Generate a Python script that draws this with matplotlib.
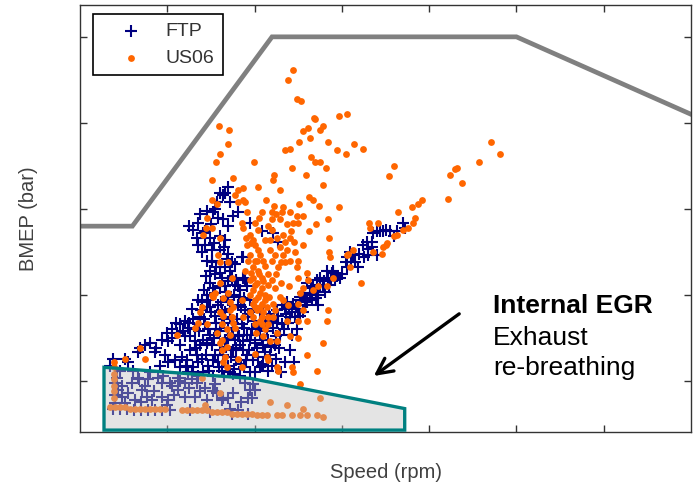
"""BMEP vs speed operating points for FTP and US06 with the internal EGR region."""

import matplotlib.pyplot as plt
import numpy as np
from matplotlib.patches import Polygon

plt.rcParams["font.family"] = ["Liberation Sans", "DejaVu Sans"]

# full-load curve (rpm, bar)
wot_rpm = [0, 600, 2200, 5000, 7000]
wot_bmep = [9.0, 9.0, 20.0, 20.0, 15.5]

# internal EGR (exhaust re-breathing) region outline
egr_rpm = [275, 1960, 3720, 3720, 275]
egr_bmep = [0.8, 0.15, -1.6, -2.85, -2.85]

# FTP operating points (rpm, bar), grouped by area of the map
ftp_tail = [
    (344, 0.9), (378, 1.3), (458, 0.6), (550, 1.1), (607, 0.6), (664, 1.7),
    (744, 2.1), (802, 2.2), (870, 1.9), (939, 2.4), (1008, 2.3), (1053, 2.5),
    (1111, 2.8), (1145, 2.1), (1202, 2.6), (1237, 3.1), (1168, 1.4), (1088, 1.2),
    (1008, 1.1), (916, 0.9), (802, 0.5), (1260, 1.8), (1317, 2.3), (515, 1.3),
    (687, 1.9), (859, 1.7), (973, 1.5), (1145, 0.8), (1100, 3.4), (1050, 3.0),
    (1000, 2.8), (1150, 3.3), (1180, 2.9), (1200, 3.5),
]
ftp_core = [
    (1317, 3.0), (1374, 3.7), (1431, 3.3), (1489, 2.7), (1511, 2.1), (1546, 1.5),
    (1580, 1.1), (1626, 0.6), (1660, 2.4), (1695, 3.1), (1718, 3.7), (1752, 1.8),
    (1786, 1.2), (1809, 2.7), (1832, 2.1), (1855, 3.3), (1889, 4.1), (1912, 1.5),
    (1947, 2.4), (1969, 3.0), (2004, 3.5), (2027, 1.9), (2061, 2.7), (2084, 0.9),
    (2118, 3.3), (2153, 2.4), (1660, 4.0), (1580, 4.4), (1466, 4.7), (1351, 1.1),
    (1408, 0.5), (1523, 0.3), (1718, 0.5), (1878, 0.8), (2004, 0.5), (1282, 0.5),
    (1214, 0.9), (1374, 2.1), (1443, 1.5), (1603, 1.8), (1775, 2.4), (1924, 3.7),
    (1809, 4.4), (1695, 4.7), (1947, 4.7), (1832, 5.3), (1889, 5.9), (1775, 5.6),
    (1672, 5.2), (2176, 1.5), (2233, 2.1), (2198, 0.9), (2290, 2.7), (2347, 1.1),
    (2405, 1.8), (2313, 3.3), (2382, 3.4), (2462, 3.7), (2519, 3.8), (2427, 2.7),
    (2485, 3.0), (1408, 2.4), (1557, 3.0), (1626, 3.4), (1740, 2.7), (1866, 1.8),
    (1981, 1.2), (2038, 3.1), (2095, 2.1), (2176, 3.7), (2256, 4.1), (2370, 4.6),
    (2061, 0.8), (1947, 0.5), (1832, 0.3), (1466, 0.9), (1340, 1.5), (1546, 3.8),
    (1752, 3.4), (1912, 2.7), (2061, 4.0),
    (1230, 1.2), (1260, 2.6), (1290, 3.6), (1300, 0.8), (1330, 1.9), (1360, 2.9),
    (1390, 4.1), (1400, 1.3), (1420, 3.6), (1450, 2.2), (1470, 3.0), (1480, 0.6),
    (1500, 4.0), (1520, 1.2), (1540, 2.5), (1560, 3.4), (1590, 0.8), (1600, 2.9),
    (1620, 4.6), (1640, 1.5), (1650, 3.6), (1670, 2.0), (1690, 0.9), (1700, 2.5),
    (1720, 4.2), (1730, 1.4), (1750, 3.0), (1770, 0.7), (1790, 1.9), (1800, 3.6),
    (1820, 2.6), (1840, 1.0), (1850, 4.3), (1870, 2.3), (1880, 3.1), (1900, 1.2),
    (1920, 3.9), (1940, 1.8), (1960, 2.7), (1980, 4.2), (2000, 2.2), (2020, 3.0),
    (2040, 1.4), (2060, 3.4), (2080, 2.4), (2100, 4.3), (2120, 1.7), (2140, 2.9),
    (2160, 3.9), (2190, 2.0), (2210, 3.1), (2240, 2.6), (2260, 3.4), (2280, 1.9),
    (2310, 4.4), (2340, 3.0), (2360, 3.9), (2400, 4.3), (2440, 4.5), (1600, 5.5),
    (1700, 5.8), (1760, 5.0), (1550, 6.2), (1880, 4.8), (1420, 5.3), (1350, 4.7),
    (1280, 4.2), (1250, 3.4), (1240, 0.5), (1350, 0.3), (1650, 0.3), (1750, 0.4),
    (2150, 0.6), (2250, 1.3), (2300, 0.5), (2450, 1.1), (2100, 1.0),
]
ftp_up = [
    (1660, 10.9), (1569, 10.4), (1718, 10.4), (1580, 9.5), (1809, 9.8), (1351, 9.2),
    (1431, 8.7), (1340, 8.3), (1489, 8.3), (1660, 8.2), (1431, 7.9), (1511, 7.6),
    (1603, 7.6), (1511, 6.9), (1683, 7.1), (1740, 6.9), (1855, 7.2), (1489, 6.4),
    (1660, 6.6), (1489, 5.7), (1626, 6.0), (1740, 6.0), (1809, 5.5), (1546, 5.1),
    (1695, 4.9), (1397, 4.6), (1489, 4.3), (1626, 4.1), (1637, 10.8), (1523, 9.8),
    (1637, 9.4), (1947, 9.2), (2084, 8.7), (2210, 8.6), (2267, 8.1), (1408, 8.6),
    (1603, 8.4), (1866, 7.2), (1511, 7.0), (1718, 6.4), (1866, 6.0), (1912, 5.5),
    (1454, 4.3), (1832, 4.9),
    (1380, 9.7), (1450, 9.9), (1550, 10.0), (1600, 10.9), (1700, 11.3), (1750, 9.6),
    (1400, 7.5), (1350, 7.9), (1460, 7.0), (1540, 8.0), (1650, 7.8), (1700, 7.4),
    (1560, 6.6), (1600, 6.3), (1440, 6.1), (1520, 5.4), (1660, 5.5), (1780, 6.8),
    (1790, 5.9), (1450, 5.0), (1500, 9.1), (1700, 9.0), (1250, 9.0), (1300, 8.8),
]
ftp_diag = [
    (3698, 9.2), (3721, 8.9), (3630, 8.7), (3550, 8.7), (3435, 8.7), (3355, 8.6),
    (3286, 8.1), (3240, 7.9), (3343, 7.8), (3401, 7.3), (3298, 7.3), (3126, 7.3),
    (3149, 6.9), (3092, 7.5), (3057, 7.2), (3183, 6.6), (3000, 6.2), (2897, 6.3),
    (2840, 6.0), (2920, 5.9), (2748, 6.0), (2714, 5.9), (2782, 5.5), (2668, 5.5),
    (2599, 5.7), (2553, 5.1), (2634, 5.0), (2519, 4.7), (2576, 4.4), (2725, 5.0),
    (2805, 5.2), (2828, 6.4), (2897, 6.4), (2977, 6.0), (2519, 4.9), (2634, 5.1),
    (2885, 6.3), (3057, 6.6), (3469, 8.7), (3401, 8.7), (2176, 3.5), (2267, 3.8),
    (2347, 4.2), (2427, 4.0), (2496, 4.2), (2656, 4.7), (2725, 4.4), (2405, 3.7),
    (2550, 4.0), (2600, 4.6), (2650, 5.4), (2700, 5.2), (2750, 5.6), (2800, 5.8),
    (2850, 5.6), (2950, 6.1), (3050, 6.9), (3100, 6.9), (3200, 7.4), (3250, 7.2),
    (3300, 7.7), (3350, 8.1), (3500, 8.8), (3600, 8.4), (2480, 4.4), (2580, 4.8),
    (2700, 4.8), (2880, 5.9),
]
ftp_low = [
    (595, -0.1), (664, 0.2), (779, 0.1), (893, 0.2), (939, -0.1), (1031, -0.1),
    (1122, 0.2), (1202, -0.1), (1282, 0.1), (1340, -0.1), (1122, -0.5), (1053, -0.3),
    (1317, -0.9), (1202, -0.9), (1431, -0.4), (1523, -0.6), (1626, -1.1), (1695, -1.0),
    (1924, -1.0), (2004, -0.5), (1809, -1.7), (767, -0.9), (630, -1.1), (481, -0.9),
    (435, -0.5), (401, -0.1), (424, 0.2), (710, -0.5), (824, -1.1), (939, -0.9),
    (1008, -1.1), (1569, -0.7), (1637, -1.0), (1889, -0.1), (1947, -0.5), (1981, -0.2),
    (1969, -1.0), (1718, -1.6), (676, 0.1), (401, -0.8), (515, -1.3),
    (378, -1.6), (458, -1.6), (538, -1.6), (618, -1.7), (698, -1.7), (779, -1.7),
    (859, -1.7), (939, -1.7), (1031, -1.7), (1260, -1.7), (1489, -1.8), (1740, -1.9),
    (1924, -1.9), (750, -0.3), (850, -0.6), (950, 0.3), (1080, -0.8), (1150, 0.0),
    (1250, -0.4), (1380, -0.6), (1450, -1.1), (1550, -0.2), (1750, -0.7), (1850, -1.2),
    (480, -0.3), (550, -0.7), (400, -1.3), (700, -1.2), (1000, -1.4),
]

# US06 operating points (rpm, bar)
us06_top = [
    (2439, 18.1), (2382, 17.5), (2485, 16.4), (2530, 16.3), (2679, 15.3), (2691, 15.2),
    (2966, 15.4), (3057, 15.5), (2553, 14.5), (2611, 14.7), (2634, 14.1), (2748, 14.6),
    (2782, 14.8), (2508, 13.9), (2347, 13.4), (2405, 13.5), (2840, 13.9), (2943, 13.4),
    (3046, 13.2), (3137, 13.8), (3240, 13.5), (1992, 12.7), (2645, 13.0), (2691, 12.7),
    (2748, 12.7), (2817, 12.4), (2427, 12.4), (2221, 12.0), (2588, 12.0), (3595, 12.5),
    (3538, 11.9), (2210, 11.7), (2782, 11.4), (2038, 11.3), (2290, 11.1), (1866, 11.2),
    (2622, 10.7), (2668, 10.5), (2737, 10.2), (2508, 10.3), (2966, 10.1), (2840, 9.4),
    (2851, 8.3), (2851, 7.5), (2863, 7.2), (1866, 10.5), (1592, 14.8), (1706, 14.6),
    (1695, 13.8), (1603, 13.2), (1557, 12.7), (1752, 11.8), (1511, 11.7), (1775, 10.8),
    (1809, 11.1), (1809, 10.4), (1511, 10.5), (1569, 10.3), (1454, 9.5), (1511, 8.9),
    (1855, 9.2), (1866, 8.9), (1408, 8.5), (1603, 8.3), (1580, 7.3), (1695, 6.9),
    (1740, 6.0), (1603, 5.7), (1511, 5.0), (1718, 4.6), (1752, 4.3), (1397, 4.3),
    (1374, 4.0), (1637, 3.8), (1740, 3.7),
]
us06_column = [
    (2130, 10.5), (2221, 10.2), (2324, 10.1), (2405, 9.8), (2485, 9.6), (2496, 9.2),
    (2313, 9.8), (2198, 9.8), (2084, 9.8), (1912, 9.8), (2198, 9.4), (2290, 9.4),
    (2370, 9.1), (2439, 9.2), (2004, 9.2), (2038, 8.8), (2198, 8.8), (2324, 8.5),
    (2405, 8.3), (2118, 8.2), (1981, 8.2), (1912, 7.9), (2038, 7.6), (2176, 7.6),
    (2290, 7.8), (2370, 7.6), (2462, 7.5), (2405, 7.0), (2347, 6.9), (2485, 6.6),
    (2496, 6.0), (2027, 7.0), (2095, 7.0), (1981, 6.6), (2038, 6.4), (1981, 6.0),
    (2084, 6.0), (2027, 5.7), (2084, 5.4), (1981, 5.3), (2038, 4.9), (1981, 4.5),
    (2084, 4.5), (2027, 4.1), (2095, 4.0), (2198, 7.0), (2267, 6.6), (2198, 5.9),
    (2290, 4.9), (2210, 4.5), (3057, 7.3), (2725, 5.5), (2611, 5.9), (1523, 4.9),
    (1603, 6.9), (1695, 5.1), (1866, 3.7), (1443, 8.9), (1889, 10.4), (1947, 8.5),
    (2004, 7.9), (2061, 7.3), (2118, 6.7), (2153, 6.2), (2004, 5.6), (1947, 5.0),
    (2118, 5.0), (2153, 5.6), (1947, 5.9), (2061, 3.5), (2118, 3.0), (2004, 3.3),
    (2176, 8.2), (2233, 7.3), (1947, 7.3), (1889, 6.4),
    (1960, 8.0), (2000, 7.0), (2050, 6.2), (2100, 5.8), (2060, 5.1), (2000, 4.3),
    (2080, 3.3), (2020, 2.8), (2100, 2.6), (1980, 3.7), (2140, 4.3), (2170, 4.9),
    (2230, 5.4), (2250, 6.2), (2300, 6.9), (2330, 7.3), (2350, 8.1), (2420, 8.7),
    (2450, 8.1), (2260, 8.3), (2150, 9.0), (2050, 9.5), (2250, 9.7), (1900, 8.3),
    (1930, 7.0), (1960, 6.3), (2010, 4.7), (2060, 4.3), (1950, 4.0), (2150, 3.7),
    (2230, 4.1), (2330, 4.7), (2400, 5.5), (2300, 5.7), (2550, 5.4), (2600, 6.3),
    (2500, 7.0), (2550, 7.9), (2620, 8.7), (2700, 9.1), (2560, 9.6),
]
us06_right = [
    (4706, 13.9), (4809, 13.2), (4569, 12.7), (4317, 12.4), (4294, 12.3), (4237, 12.0),
    (4374, 11.5), (4214, 10.6), (3916, 10.5), (3870, 10.3), (3801, 10.1), (3641, 9.8),
    (3836, 9.5), (3813, 9.2), (3756, 8.9), (3698, 8.8), (3630, 8.5), (3515, 8.0),
    (3469, 7.8), (3309, 9.2), (3412, 9.2), (3321, 8.9), (3458, 7.4), (3355, 7.5),
    (3126, 7.6), (3069, 7.4), (3217, 5.7), (3092, 6.6), (3595, 8.4), (3504, 7.9),
]
us06_mid = [
    (2840, 4.1), (2828, 3.5), (2599, 3.5), (2553, 4.1), (2668, 5.3), (2828, 5.5),
    (2897, 6.0), (1546, 5.1), (1637, 4.8), (1603, 4.0), (1718, 4.1), (1752, 3.4),
    (1569, 2.8), (1626, 2.4), (1683, 2.0), (1718, 2.7), (1660, 1.4), (1855, 4.7),
    (2118, 4.7), (2382, 4.4), (2496, 4.5), (2519, 5.1), (2496, 3.5), (2370, 3.5),
    (2210, 3.7), (2153, 3.3), (2256, 2.8), (2176, 2.3), (2405, 2.6), (2496, 2.5),
    (2256, 2.3), (2782, 2.2), (2599, 1.5), (2141, 1.4), (2153, 1.2), (2256, 0.8),
    (2267, 0.6), (2427, 0.8), (2439, 0.5), (2714, 0.6), (2519, -0.2), (1351, 3.4),
    (1317, 3.1), (1626, 3.3), (1683, 3.0), (1740, 3.7), (1775, 3.1), (2084, 3.7),
    (1603, 2.2), (1626, 1.8), (1809, 1.3), (1637, 1.1), (1683, 0.8), (1855, 0.8),
    (2004, 1.6), (1111, 2.7), (687, 1.9), (744, 1.3), (515, 1.3), (1397, 0.2),
    (1454, 3.3), (389, 1.1), (389, 0.8), (389, 0.4), (389, 0.1), (389, -0.3),
    (389, -0.6), (389, -1.0),
]
us06_low = [
    (2176, -1.2), (2370, -1.4), (2553, -1.6), (2748, -1.0), (1431, -1.4), (1603, -0.7),
    (344, -1.5), (401, -1.5), (458, -1.5), (515, -1.5), (573, -1.6), (630, -1.6),
    (687, -1.6), (744, -1.6), (802, -1.6), (859, -1.6), (916, -1.6), (973, -1.6),
    (1168, -1.7), (1225, -1.7), (1282, -1.7), (1340, -1.7), (1397, -1.7), (1454, -1.7),
    (1511, -1.8), (1569, -1.8), (1626, -1.8), (1683, -1.8), (1740, -1.9), (1798, -1.9),
    (1855, -1.9), (1912, -1.9), (1969, -1.9), (2027, -2.0), (2084, -2.0), (2141, -2.0),
    (2256, -2.0), (2313, -2.0), (2427, -2.0), (2519, -2.0), (2599, -2.0), (2714, -2.0),
    (2782, -2.1),
]

ftp = np.array(ftp_tail + ftp_core + ftp_up + ftp_diag + ftp_low)
us06 = np.array(us06_top + us06_column + us06_right + us06_mid + us06_low)

fig = plt.figure(figsize=(6.95, 4.88), dpi=100)
ax = fig.add_axes([80 / 695, 56 / 488, 611 / 695, 427 / 488])

ax.plot(wot_rpm, wot_bmep, color="#808080", linewidth=3.4, solid_joinstyle="miter", zorder=1)
ax.scatter(ftp[:, 0], ftp[:, 1], marker="+", s=75, linewidths=1.5, color="#000080",
           label="FTP", zorder=2)
ax.scatter(us06[:, 0], us06[:, 1], marker="o", s=24, linewidths=0, color="#ff6600",
           label="US06", zorder=3)

region = Polygon(np.column_stack([egr_rpm, egr_bmep]), closed=True,
                 facecolor=(0.75, 0.75, 0.75, 0.42), edgecolor="#008080",
                 linewidth=2.4, joinstyle="miter", zorder=4)
ax.add_patch(region)

ax.annotate("", xy=(3340, 0.2), xytext=(4370, 4.0),
            arrowprops=dict(arrowstyle="->", lw=2.4, color="black", mutation_scale=28))
ax.text(0.676, 0.279, "Internal EGR", transform=ax.transAxes, fontsize=19,
        fontweight="bold", va="baseline")
ax.text(0.676, 0.204, "Exhaust", transform=ax.transAxes, fontsize=19, va="baseline")
ax.text(0.676, 0.133, "re-breathing", transform=ax.transAxes, fontsize=19, va="baseline")

ax.set_xlim(0, 7000)
ax.set_ylim(-2.96, 21.85)
ax.set_xticks(range(1000, 7000, 1000))
ax.set_yticks([0, 5, 10, 15, 20])
ax.tick_params(direction="in", length=5, width=1, top=True, right=True,
               labelbottom=False, labelleft=False, color="#333333")
for spine in ax.spines.values():
    spine.set_color("#333333")
    spine.set_linewidth(1.0)

ax.set_xlabel("Speed (rpm)", fontsize=14.5, color="#404040")
ax.xaxis.set_label_coords(0.5, -0.072)
ax.set_ylabel("BMEP (bar)", fontsize=14.5, color="#404040")
ax.yaxis.set_label_coords(-0.069, 0.5)

leg = ax.legend(loc="upper left", bbox_to_anchor=(0.021, 0.979), borderaxespad=0,
                fontsize=14, fancybox=False, edgecolor="black", borderpad=0.45,
                handlelength=3.0, handletextpad=0.3, labelspacing=0.45,
                scatterpoints=1, framealpha=1)
leg.get_frame().set_linewidth(1.2)
for text in leg.get_texts():
    text.set_color("#333333")
leg.set_zorder(10)

fig.savefig("out.png", dpi=100)
